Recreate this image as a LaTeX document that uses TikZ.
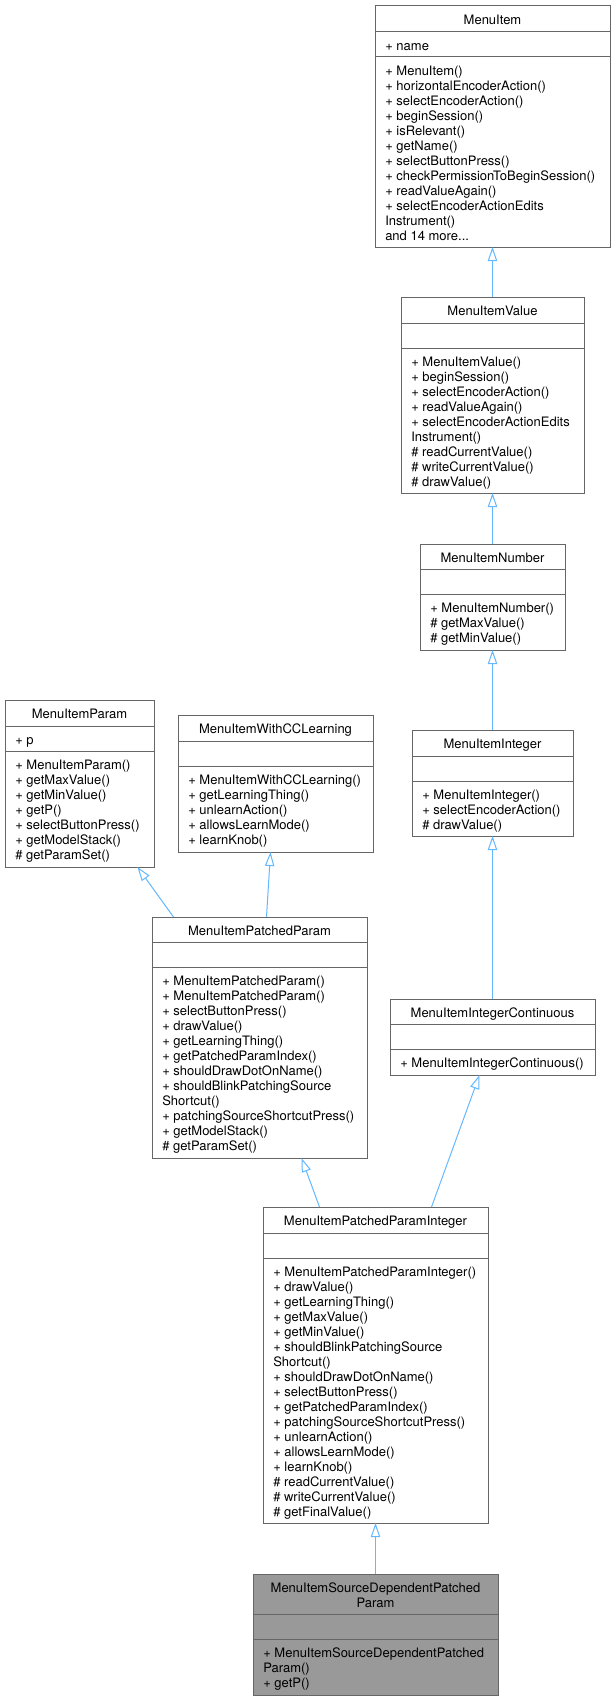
\documentclass[tikz,border=0pt]{standalone}
\usepackage{fontspec}
\setmainfont{TeX Gyre Heros}
\usetikzlibrary{calc,arrows.meta}
\definecolor{boxline}{HTML}{666666}
\definecolor{edgeblue}{HTML}{63B8FF}
\definecolor{current}{HTML}{999999}
\def\px{0.75pt}
\def\rs{\rule[-1.125pt]{0pt}{11.25pt}}
\tikzset{
	classbox/.style={draw=boxline, line width=0.75pt, inner sep=0pt, outer sep=0pt, anchor=north west},
	classsep/.style={draw=boxline, line width=0.75pt},
	classtext/.style={inner sep=0pt, font=\fontsize{9.75pt}{11.25pt}\selectfont},
	inherits/.style={draw=edgeblue, line width=0.75pt, -{Triangle[open, length=10.5pt, width=7pt]}},
}
\def\umlclass#1[#2](#3)(#4:#5:#6)#7#8#9{%
	\node[classbox, fill=#2, minimum width=#4*\px, minimum height=(#5+25+#6)*\px] (#1) at (#3) {};
	\draw[classsep] ($(#1.north west)+(0,#5)$) -- ++(#4,0) ($(#1.north west)+(0,#5+25)$) -- ++(#4,0);
	\node[classtext, anchor=north, align=center] (#1-t) at ($(#1.north)+(0,4.5)$) {\rs#7};
	\node[classtext, anchor=north west, align=left] (#1-a) at ($(#1.north west)+(10,#5+5)$) {\rs#8};
	\node[classtext, anchor=north west, align=left] (#1-m) at ($(#1.north west)+(10,#5+30)$) {\rs#9};
}

\begin{document}
\begin{tikzpicture}[x=0.75pt, y=-0.75pt]
			%%%%% START %%%%%
			
			\fill[white] (0,0) rectangle (616,1702);
			
			\umlclass{item}[white](375,6)(235:26:190){MenuItem}{+ name}{+ MenuItem()\\+ horizontalEncoderAction()\\+ selectEncoderAction()\\+ beginSession()\\+ isRelevant()\\+ getName()\\+ selectButtonPress()\\+ checkPermissionToBeginSession()\\+ readValueAgain()\\+ selectEncoderActionEdits\\Instrument()\\and 14 more...}
			
			\umlclass{value}[white](401,297)(183:26:145){MenuItemValue}{}{+ MenuItemValue()\\+ beginSession()\\+ selectEncoderAction()\\+ readValueAgain()\\+ selectEncoderActionEdits\\Instrument()\\\# readCurrentValue()\\\# writeCurrentValue()\\\# drawValue()}
			
			\umlclass{number}[white](420,544)(145:25:56){MenuItemNumber}{}{+ MenuItemNumber()\\\# getMaxValue()\\\# getMinValue()}
			
			\umlclass{integer}[white](412,730)(161:26:55){MenuItemInteger}{}{+ MenuItemInteger()\\+ selectEncoderAction()\\\# drawValue()}
			
			\umlclass{contin}[white](390,999)(205:25:26){MenuItemIntegerContinuous}{}{+ MenuItemIntegerContinuous()}
			
			\umlclass{param}[white](5,700)(149:26:116){MenuItemParam}{+ p}{+ MenuItemParam()\\+ getMaxValue()\\+ getMinValue()\\+ getP()\\+ selectButtonPress()\\+ getModelStack()\\\# getParamSet()}
			
			\umlclass{cclearn}[white](178,715)(195:26:86){MenuItemWithCCLearning}{}{+ MenuItemWithCCLearning()\\+ getLearningThing()\\+ unlearnAction()\\+ allowsLearnMode()\\+ learnKnob()}
			
			\umlclass{patched}[white](152,917)(215:25:191){MenuItemPatchedParam}{}{+ MenuItemPatchedParam()\\+ MenuItemPatchedParam()\\+ selectButtonPress()\\+ drawValue()\\+ getLearningThing()\\+ getPatchedParamIndex()\\+ shouldDrawDotOnName()\\+ shouldBlinkPatchingSource\\Shortcut()\\+ patchingSourceShortcutPress()\\+ getModelStack()\\\# getParamSet()}
			
			\umlclass{patchedint}[white](263,1207)(225:26:265){MenuItemPatchedParamInteger}{}{+ MenuItemPatchedParamInteger()\\+ drawValue()\\+ getLearningThing()\\+ getMaxValue()\\+ getMinValue()\\+ shouldBlinkPatchingSource\\Shortcut()\\+ shouldDrawDotOnName()\\+ selectButtonPress()\\+ getPatchedParamIndex()\\+ patchingSourceShortcutPress()\\+ unlearnAction()\\+ allowsLearnMode()\\+ learnKnob()\\\# readCurrentValue()\\\# writeCurrentValue()\\\# getFinalValue()}
			
			\umlclass{srcdep}[current](253,1574)(245:40:56){MenuItemSourceDependentPatched\\Param}{}{+ MenuItemSourceDependentPatched\\Param()\\+ getP()}
			
			% inheritance
			\draw[inherits] (value.north) -- (item.south);
			\draw[inherits] (number.north) -- (value.south);
			\draw[inherits] (integer.north) -- (number.south);
			\draw[inherits] (contin.north) -- (integer.south);
			\draw[inherits] ($(patched.north)+(-86,0)$) -- ($(param.south)+(58,0)$);
			\draw[inherits] ($(patched.north)+(7,0)$) -- ($(cclearn.south)+(-5,0)$);
			\draw[inherits] ($(patchedint.north)+(-56,0)$) -- ($(patched.south)+(42,0)$);
			\draw[inherits] ($(patchedint.north)+(56,0)$) -- ($(contin.south)+(-13,0)$);
			\draw[inherits] (srcdep.north) -- (patchedint.south);
			
			%%%%% END %%%%%
\end{tikzpicture}
\end{document}
